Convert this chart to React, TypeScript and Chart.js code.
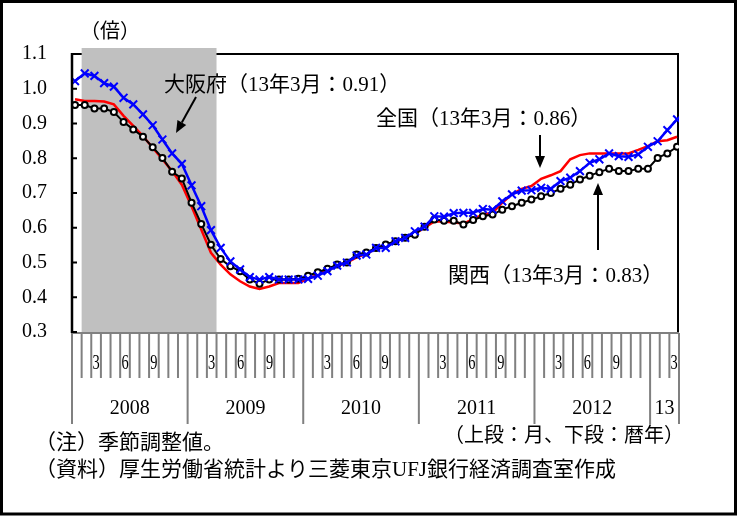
import React, { useEffect, useRef } from 'react';
import { Chart, registerables } from 'chart.js';
Chart.register(...registerables);

// ---- data ----
const monthCount = 63; // 2008/1 .. 2013/3
const yearLabels = ['2008', '2009', '2010', '2011', '2012', '13'];
const yearStarts = [0, 12, 24, 36, 48, 60];
const monthLabels = ['3', '6', '9'];
const yTicks = [0.3, 0.4, 0.5, 0.6, 0.7, 0.8, 0.9, 1.0, 1.1];
const shadeFrom = 1; // 2008/2
const shadeTo = 15; // through 2009/3

const zenkoku = [
  0.97, 0.965, 0.965, 0.963, 0.955, 0.922, 0.893, 0.864, 0.83, 0.797, 0.763, 0.724, 0.662, 0.595, 0.528, 0.494, 0.466,
  0.446, 0.431, 0.424, 0.431, 0.441, 0.441, 0.441, 0.453, 0.465, 0.477,
  0.49, 0.5, 0.515, 0.525, 0.54, 0.55, 0.56, 0.572, 0.583, 0.6,
  0.618, 0.618, 0.615, 0.612, 0.625, 0.638, 0.643, 0.672, 0.696, 0.712,
  0.72, 0.741, 0.751, 0.763, 0.797, 0.809, 0.814, 0.814, 0.814, 0.814,
  0.814, 0.824, 0.835, 0.849, 0.852, 0.862,
];
const osaka = [
  1.022, 1.044, 1.037, 1.016, 1.006, 0.974, 0.955, 0.926, 0.895, 0.854, 0.814, 0.784, 0.722, 0.662, 0.593, 0.542, 0.503,
  0.48, 0.458, 0.451, 0.458, 0.451, 0.451, 0.451, 0.453, 0.462, 0.475,
  0.491, 0.5, 0.52, 0.523, 0.542, 0.542, 0.561, 0.571, 0.59, 0.603,
  0.633, 0.632, 0.642, 0.643, 0.643, 0.654, 0.652, 0.676, 0.696, 0.707,
  0.708, 0.715, 0.712, 0.734, 0.744, 0.763, 0.787, 0.797, 0.814, 0.806,
  0.804, 0.811, 0.833, 0.849, 0.881, 0.912,
];
const kansai = [
  0.953, 0.953, 0.943, 0.943, 0.933, 0.904, 0.883, 0.862, 0.832, 0.801, 0.761, 0.742, 0.672, 0.611, 0.551, 0.51, 0.489,
  0.475, 0.451, 0.439, 0.451, 0.451, 0.451, 0.453, 0.462, 0.472, 0.482,
  0.494, 0.5, 0.523, 0.529, 0.542, 0.552, 0.561, 0.571, 0.58, 0.603,
  0.624, 0.62, 0.62, 0.609, 0.622, 0.633, 0.638, 0.652, 0.662, 0.672,
  0.681, 0.691, 0.7, 0.712, 0.724, 0.739, 0.75, 0.76, 0.77, 0.763,
  0.763, 0.77, 0.77, 0.801, 0.814, 0.833,
];

const FONT = '"Liberation Serif", "Noto Sans CJK JP", serif';

function arrow(ctx: CanvasRenderingContext2D, x1: number, y1: number, x2: number, y2: number) {
  const ang = Math.atan2(y2 - y1, x2 - x1);
  const hl = 12, hw = 5;
  const bx = x2 - hl * Math.cos(ang), by = y2 - hl * Math.sin(ang);
  ctx.save();
  ctx.strokeStyle = '#000';
  ctx.fillStyle = '#000';
  ctx.lineWidth = 2;
  ctx.beginPath();
  ctx.moveTo(x1, y1);
  ctx.lineTo(bx, by);
  ctx.stroke();
  ctx.beginPath();
  ctx.moveTo(x2, y2);
  ctx.lineTo(bx + hw * Math.sin(ang), by - hw * Math.cos(ang));
  ctx.lineTo(bx - hw * Math.sin(ang), by + hw * Math.cos(ang));
  ctx.closePath();
  ctx.fill();
  ctx.restore();
}

const decor = {
  id: 'decor',
  beforeDatasetsDraw(chart: any) {
    const { ctx, chartArea } = chart;
    const { left, right, top, bottom } = chartArea;
    const slot = (right - left) / monthCount;
    ctx.save();
    // plot frame (top / right)
    ctx.strokeStyle = '#000';
    ctx.lineWidth = 2;
    ctx.beginPath();
    ctx.moveTo(left, top);
    ctx.lineTo(right, top);
    ctx.moveTo(right - 1, top);
    ctx.lineTo(right - 1, bottom);
    ctx.stroke();
    // shaded period
    ctx.fillStyle = '#c0c0c0';
    ctx.fillRect(left + shadeFrom * slot, top - 6, (shadeTo - shadeFrom) * slot, bottom - top + 6);
    ctx.restore();
  },
  afterDatasetsDraw(chart: any) {
    const { ctx, chartArea, scales } = chart;
    const { left, right, top, bottom } = chartArea;
    const ys = scales.y;
    const slot = (right - left) / monthCount;
    ctx.save();
    // x axis
    ctx.strokeStyle = '#808080';
    ctx.lineWidth = 2;
    ctx.beginPath();
    ctx.moveTo(left, bottom + 1);
    ctx.lineTo(right, bottom + 1);
    for (let i = 0; i <= monthCount; i++) {
      const x = left + i * slot;
      const isYear = yearStarts.includes(i) || i === monthCount;
      ctx.moveTo(x, bottom + 1);
      ctx.lineTo(x, isYear ? 424 : 378);
    }
    ctx.stroke();
    // y axis
    ctx.strokeStyle = '#000';
    ctx.lineWidth = 2.5;
    ctx.beginPath();
    ctx.moveTo(left, top - 1);
    ctx.lineTo(left, bottom + 1);
    ctx.stroke();
    ctx.lineWidth = 2;
    ctx.beginPath();
    yTicks.forEach((v) => {
      const py = ys.getPixelForValue(v);
      ctx.moveTo(left, py);
      ctx.lineTo(left + 5, py);
    });
    ctx.stroke();
    ctx.fillStyle = '#000';
    ctx.font = '20px ' + FONT;
    ctx.textAlign = 'right';
    ctx.textBaseline = 'middle';
    yTicks.forEach((v) => {
      ctx.fillText(v.toFixed(1), 47, ys.getPixelForValue(v));
    });
    // month labels (condensed)
    ctx.textAlign = 'center';
    for (let m = 0; m < monthCount; m++) {
      const mm = String((m % 12) + 1);
      if (!monthLabels.includes(mm)) continue;
      const cx = left + (m + 0.5) * slot;
      ctx.save();
      ctx.translate(cx, 364);
      ctx.scale(0.72, 1);
      ctx.font = '20px ' + FONT;
      ctx.fillText(mm, 0, 0);
      ctx.restore();
    }
    // year labels
    ctx.font = '20px ' + FONT;
    yearStarts.forEach((s, k) => {
      const e = Math.min(s + 12, monthCount);
      ctx.fillText(yearLabels[k], left + ((s + e) / 2) * slot, 409);
    });
    // annotations
    ctx.textAlign = 'center';
    ctx.font = '20px ' + FONT;
    ctx.fillText('（倍）', 110, 33);
    ctx.textAlign = 'left';
    ctx.font = '21px ' + FONT;
    ctx.fillText('大阪府（13年3月：0.91）', 164, 85);
    ctx.fillText('全国（13年3月：0.86）', 376, 119);
    ctx.fillText('関西（13年3月：0.83）', 448, 276);
    arrow(ctx, 196, 97, 176, 133);
    arrow(ctx, 540, 135, 540, 168);
    arrow(ctx, 598, 250, 598, 183);
    // notes
    ctx.font = '21px ' + FONT;
    ctx.fillText('（注）季節調整値。', 35, 443);
    ctx.fillText('（資料）厚生労働省統計より三菱東京UFJ銀行経済調査室作成', 35, 470);
    ctx.font = '20px ' + FONT;
    ctx.textAlign = 'right';
    ctx.fillText('（上段：月、下段：暦年）', 684, 437);
    // outer frame
    ctx.strokeStyle = '#000';
    ctx.lineWidth = 3;
    ctx.strokeRect(1.5, 1.5, 734, 512.5);
    ctx.restore();
  },
};

export default function App() {
  const ref = useRef<HTMLCanvasElement>(null);
  useEffect(() => {
    const toXY = (arr: number[]) => arr.map((v, i) => ({ x: i, y: v }));
    const chart = new Chart(ref.current as HTMLCanvasElement, {
      type: 'line',
      data: {
        datasets: [
          {
            label: '大阪府',
            data: toXY(osaka),
            borderColor: '#0000ff',
            borderWidth: 2.5,
            pointStyle: 'crossRot',
            pointRadius: 5.5,
            pointBorderWidth: 2,
            pointBorderColor: '#0000ff',
            pointBackgroundColor: '#0000ff',
            tension: 0,
            order: 0,
          },
          {
            label: '関西',
            data: toXY(kansai),
            borderColor: '#000000',
            borderWidth: 2,
            pointStyle: 'circle',
            pointRadius: 3,
            pointBorderWidth: 2,
            pointBorderColor: '#000000',
            pointBackgroundColor: '#ffffff',
            tension: 0,
            order: 1,
          },
          {
            label: '全国',
            data: toXY(zenkoku),
            borderColor: '#ff0000',
            borderWidth: 2.5,
            pointRadius: 0,
            tension: 0,
            order: 2,
          },
        ],
      },
      options: {
        responsive: false,
        animation: false,
        devicePixelRatio: 1,
        layout: { padding: { left: 72, right: 61, top: 54, bottom: 184 } },
        scales: {
          x: { type: 'linear', min: -0.31, max: 62.2, display: false },
          y: { type: 'linear', min: 0.3, max: 1.1, display: false },
        },
        plugins: { legend: { display: false }, tooltip: { enabled: false } },
      },
      plugins: [decor],
    });
    return () => chart.destroy();
  }, []);
  return (
    <div style={{ position: 'absolute', left: 0, top: 0, width: 740, height: 516, background: '#fff' }}>
      <canvas ref={ref} width={740} height={516} style={{ display: 'block' }} />
    </div>
  );
}
